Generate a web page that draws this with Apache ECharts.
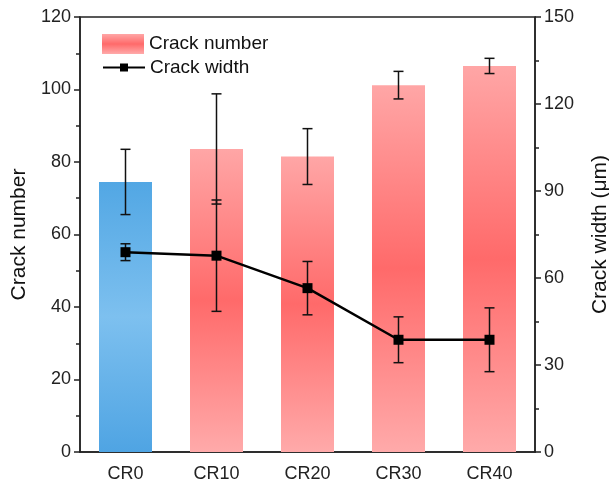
<!DOCTYPE html>
<html>
<head>
<meta charset="utf-8">
<script src="https://cdn.jsdelivr.net/npm/echarts@6/dist/echarts.min.js"></script>
<style>html,body{margin:0;padding:0;background:#fff}#c{width:609px;height:487px}</style>
</head>
<body>
<div id="c"></div>
<script>
// Sample groups
var categories = ['CR0', 'CR10', 'CR20', 'CR30', 'CR40'];
// Crack number (mean and standard deviation)
var crackNumber = [74.5, 83.6, 81.5, 101.2, 106.5];
var crackNumberErr = [9.0, 15.2, 7.7, 3.8, 2.1];
// Crack width in μm (mean and standard deviation)
var crackWidth = [68.9, 67.7, 56.5, 38.7, 38.7];
var crackWidthErr = [2.9, 19.2, 9.2, 7.9, 11.0];
// Axis ticks
var leftTicks = [0, 20, 40, 60, 80, 100, 120];
var rightTicks = [0, 30, 60, 90, 120, 150];

var FONT = 'Liberation Sans, Arial, sans-serif';

function vGrad(a, b, c) {
  return new echarts.graphic.LinearGradient(0, 0, 0, 1, [
    {offset: 0, color: a}, {offset: 0.5, color: b}, {offset: 1, color: c}
  ]);
}
var redGrad = vGrad('#ffa6a6', '#ff6a6a', '#ffaaaa');
var blueGrad = vGrad('#52a7e4', '#7dc0ef', '#4fa4e3');

function errorBars(values, errs, capHalf, axisIndex) {
  return {
    type: 'custom',
    yAxisIndex: axisIndex,
    z: 5,
    silent: true,
    data: values.map(function (v, i) { return [i, v - errs[i], v + errs[i]]; }),
    renderItem: function (params, api) {
      var lo = api.coord([api.value(0), api.value(1)]);
      var hi = api.coord([api.value(0), api.value(2)]);
      var st = {stroke: '#111', lineWidth: 1.5};
      return {
        type: 'group',
        children: [
          {type: 'line', shape: {x1: lo[0], y1: lo[1], x2: hi[0], y2: hi[1]}, style: st},
          {type: 'line', shape: {x1: lo[0] - capHalf, y1: lo[1], x2: lo[0] + capHalf, y2: lo[1]}, style: st},
          {type: 'line', shape: {x1: hi[0] - capHalf, y1: hi[1], x2: hi[0] + capHalf, y2: hi[1]}, style: st}
        ]
      };
    }
  };
}

var axisLineStyle = {color: '#222', width: 1.5};
var legendText = {fontSize: 19, color: '#111', fontFamily: FONT};
var chart = echarts.init(document.getElementById('c'));
chart.setOption({
  animation: false,
  textStyle: {fontFamily: FONT},
  grid: {
    left: 80, right: 74, top: 17, bottom: 35,
    outerBoundsMode: 'none', containLabel: false,
    show: true, borderColor: '#222', borderWidth: 1.5
  },
  legend: [
    {
      left: 97, top: 29, itemWidth: 42, itemHeight: 20, itemGap: 8,
      textStyle: legendText,
      data: [{name: 'Crack number', icon: 'rect'}]
    },
    {
      left: 97, top: 53, itemWidth: 42, itemHeight: 10, itemGap: 8,
      textStyle: legendText,
      data: [{name: 'Crack width'}]
    }
  ],
  xAxis: {
    type: 'category',
    data: categories,
    axisLine: {lineStyle: axisLineStyle},
    axisTick: {alignWithLabel: true, length: 6, lineStyle: axisLineStyle},
    axisLabel: {fontSize: 18, color: '#222', margin: 13}
  },
  yAxis: [
    {
      type: 'value', min: leftTicks[0], max: leftTicks[leftTicks.length - 1], interval: 20,
      name: 'Crack number', nameLocation: 'middle', nameGap: 49,
      nameTextStyle: {fontSize: 21, color: '#111'},
      axisLine: {show: true, lineStyle: axisLineStyle},
      axisTick: {show: true, length: 6, lineStyle: axisLineStyle},
      minorTick: {show: true, splitNumber: 2, length: 4, lineStyle: axisLineStyle},
      splitLine: {show: false},
      axisLabel: {fontSize: 18, color: '#222', margin: 9}
    },
    {
      type: 'value', min: rightTicks[0], max: rightTicks[rightTicks.length - 1], interval: 30,
      name: 'Crack width (μm)', nameLocation: 'middle', nameGap: 55, nameRotate: 90,
      nameTextStyle: {fontSize: 21, color: '#111'},
      axisLine: {show: true, lineStyle: axisLineStyle},
      axisTick: {show: true, length: 6, lineStyle: axisLineStyle},
      minorTick: {show: true, splitNumber: 2, length: 4, lineStyle: axisLineStyle},
      splitLine: {show: false},
      axisLabel: {fontSize: 18, color: '#222', margin: 9}
    }
  ],
  series: [
    {
      name: 'Crack number',
      type: 'bar',
      barWidth: 53,
      itemStyle: {color: redGrad},
      data: crackNumber.map(function (v, i) {
        return i === 0 ? {value: v, itemStyle: {color: blueGrad}} : v;
      })
    },
    errorBars(crackNumber, crackNumberErr, 5, 0),
    {
      name: 'Crack width',
      type: 'line',
      yAxisIndex: 1,
      z: 6,
      symbol: 'rect',
      symbolSize: 10,
      lineStyle: {color: '#000', width: 2.5},
      itemStyle: {color: '#000'},
      data: crackWidth
    },
    errorBars(crackWidth, crackWidthErr, 5, 1)
  ]
});
</script>
</body>
</html>
